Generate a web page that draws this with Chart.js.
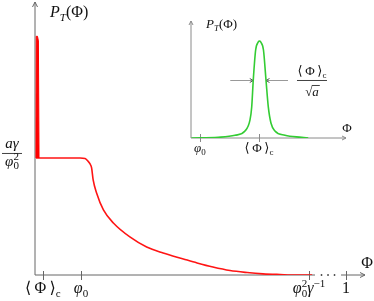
<!DOCTYPE html>
<html>
<head>
<meta charset="utf-8">
<script src="https://cdn.jsdelivr.net/npm/chart.js@4.4.0/dist/chart.umd.min.js"></script>
<style>
  html, body { margin: 0; padding: 0; background: #fff; }
  #wrap { position: relative; width: 374px; height: 301px; }
  #wrap canvas { position: absolute; left: 0; top: 0; }
</style>
</head>
<body>
<div id="wrap">
  <canvas id="mainChart" width="374" height="301"></canvas>
  <canvas id="insetChart" width="374" height="301"></canvas>
</div>
<script>
// main curve P_T(Phi): x in Phi (1 = right tick), y in units of a*gamma/phi0^2
var mainX = [0.003, 0.08, 0.145, 0.161, 0.170, 0.177, 0.182, 0.187, 0.198, 0.220, 0.252, 0.305,
             0.359, 0.412, 0.477, 0.521, 0.572, 0.627, 0.682, 0.733, 0.788, 0.839, 0.891];
var mainY = [1.0, 1.0, 1.0, 0.996, 0.974, 0.949, 0.915, 0.812, 0.701, 0.556, 0.444, 0.325,
             0.239, 0.188, 0.137, 0.103, 0.068, 0.038, 0.021, 0.010, 0.004, 0.0, 0.0];
// narrow peak at <Phi>_c sitting on the plateau
var spikeX = [0.003, 0.004, 0.008, 0.011, 0.013];
var spikeY = [1.0, 2.04, 2.04, 2.0, 1.0];
var mainTicks = [0.025, 0.148, 0.881, 1];
var mainTickLabels = ['⟨\u2009Φ\u2009⟩_c', 'φ_0', 'φ_0^2γ^{−1}', '1'];

// inset: peak around <Phi>_c, x in units of <Phi>_c, y normalised to the peak
var insetX = [0.007, 0.401, 0.647, 0.794, 0.868, 0.893, 0.916, 0.951, 0.990, 1.007, 1.025, 1.066,
              1.103, 1.137, 1.176, 1.235, 1.382, 1.628, 1.725];
var insetY = [0.0, 0.007, 0.028, 0.072, 0.186, 0.320, 0.598, 0.907, 0.990, 1.0, 0.990, 0.907,
              0.598, 0.320, 0.155, 0.072, 0.028, 0.007, 0.0];
var insetTicks = [0.13, 1];
var insetTickLabels = ['φ_0', '⟨\u2009Φ\u2009⟩_c'];
// width marker of the inset peak
var widthLevel = 0.598;
var widthFrom = 0.916, widthTo = 1.103;

var FONT = "'Liberation Serif', 'DejaVu Serif', serif";
var ITALIC = 'aPTγφ';

function toPoints(xs, ys) {
    return xs.map(function (x, i) { return { x: x, y: ys[i] }; });
}

// tiny TeX-ish parser: _x / ^x / _{..} / ^{..}
function parseTex(s) {
    var parts = [], i = 0;
    while (i < s.length) {
        var c = s[i];
        if (c === '_' || c === '^') {
            var lvl = c === '_' ? -1 : 1, t;
            i++;
            if (s[i] === '{') { var j = s.indexOf('}', i); t = s.slice(i + 1, j); i = j + 1; }
            else { t = s[i]; i++; }
            parts.push({ t: t, lvl: lvl });
        } else {
            parts.push({ t: c, lvl: 0 });
            i++;
        }
    }
    return parts;
}

function texLayout(ctx, s, size) {
    var parts = parseTex(s), items = [], cx = 0, last = null;
    parts.forEach(function (p) {
        var px = p.lvl ? Math.round(size * 0.7) : size;
        var dy = p.lvl < 0 ? size * 0.22 : (p.lvl > 0 ? -size * 0.4 : 0);
        var stack = p.lvl && last && last.lvl !== p.lvl;
        var xx = stack ? last.x : cx;
        for (var k = 0; k < p.t.length; k++) {
            var ch = p.t[k];
            ctx.font = (ITALIC.indexOf(ch) >= 0 ? 'italic ' : '') + px + 'px ' + FONT;
            items.push({ ch: ch, font: ctx.font, x: xx, dy: dy });
            xx += ctx.measureText(ch).width;
        }
        if (stack) { cx = Math.max(cx, xx); last = null; }
        else { last = p.lvl ? { lvl: p.lvl, x: cx } : null; cx = xx; }
    });
    return { items: items, width: cx };
}

function drawTex(ctx, s, x, y, size, align, color) {
    var L = texLayout(ctx, s, size);
    var x0 = align === 'center' ? x - L.width / 2 : (align === 'right' ? x - L.width : x);
    ctx.fillStyle = color || '#000';
    ctx.textAlign = 'left';
    ctx.textBaseline = 'alphabetic';
    L.items.forEach(function (it) {
        ctx.font = it.font;
        ctx.fillText(it.ch, x0 + it.x, y + it.dy);
    });
    return L.width;
}

function arrowHead(ctx, x, y, dx, dy, len, half) {
    // dx,dy = unit direction of the arrow
    ctx.beginPath();
    ctx.moveTo(x - dx * len - dy * half, y - dy * len + dx * half);
    ctx.lineTo(x, y);
    ctx.lineTo(x - dx * len + dy * half, y - dy * len - dx * half);
    ctx.stroke();
}

var mainAxes = {
    id: 'mainAxes',
    beforeDatasetsDraw: function (chart) {
        var ctx = chart.ctx, xs = chart.scales.x, ys = chart.scales.y;
        var x0 = xs.getPixelForValue(0), y0 = ys.getPixelForValue(0);
        var xCut = xs.getPixelForValue(mainTicks[2]), xOne = xs.getPixelForValue(mainTicks[3]);
        ctx.save();
        ctx.strokeStyle = '#666';
        ctx.fillStyle = '#444';
        ctx.lineWidth = 1;
        ctx.beginPath();
        ctx.moveTo(x0, y0); ctx.lineTo(x0, ys.top);
        ctx.moveTo(x0, y0); ctx.lineTo(xCut + 6, y0);
        ctx.moveTo(xOne - 5, y0); ctx.lineTo(xs.right, y0);
        ctx.stroke();
        arrowHead(ctx, x0, ys.top, 0, -1, 5, 2.5);
        arrowHead(ctx, xs.right, y0, 1, 0, 5, 2.5);
        // dots in the broken part of the axis
        for (var k = 1; k <= 3; k++) {
            var xd = xCut + 6 + (xOne - 5 - xCut - 6) * k / 4;
            ctx.beginPath(); ctx.arc(xd, y0, 0.9, 0, Math.PI * 2); ctx.fill();
        }
        mainTicks.forEach(function (v) {
            var px = Math.round(xs.getPixelForValue(v)) + 0.5;
            ctx.beginPath(); ctx.moveTo(px, y0 - 4); ctx.lineTo(px, y0 + 5); ctx.stroke();
        });
        ctx.restore();
    },
    afterDraw: function (chart) {
        var ctx = chart.ctx, xs = chart.scales.x, ys = chart.scales.y;
        var y0 = ys.getPixelForValue(0), yp = ys.getPixelForValue(1);
        ctx.save();
        mainTickLabels.forEach(function (t, i) {
            drawTex(ctx, t, xs.getPixelForValue(mainTicks[i]), y0 + 18, 16, 'center', '#111');
        });
        drawTex(ctx, 'P_T(Φ)', xs.left + 15, ys.top + 15, 16, 'left', '#111');
        drawTex(ctx, 'Φ', xs.right + 2, y0 - 7, 16, 'center', '#111');
        // a*gamma / phi0^2 on the plateau level
        var cx = 12;
        drawTex(ctx, 'aγ', cx, yp - 10, 15, 'center', '#111');
        drawTex(ctx, 'φ_0^2', cx, yp + 8, 15, 'center', '#111');
        ctx.strokeStyle = '#111';
        ctx.lineWidth = 0.8;
        ctx.beginPath(); ctx.moveTo(2, yp - 4.5); ctx.lineTo(22, yp - 4.5); ctx.stroke();
        ctx.restore();
    }
};

var insetAxes = {
    id: 'insetAxes',
    beforeDatasetsDraw: function (chart) {
        var ctx = chart.ctx, xs = chart.scales.x, ys = chart.scales.y;
        var x0 = xs.getPixelForValue(0), y0 = ys.getPixelForValue(0);
        ctx.save();
        ctx.strokeStyle = '#8a8a8a';
        ctx.lineWidth = 1;
        ctx.beginPath();
        ctx.moveTo(x0, y0); ctx.lineTo(x0, ys.top);
        ctx.moveTo(x0, y0); ctx.lineTo(xs.right, y0);
        ctx.stroke();
        arrowHead(ctx, x0, ys.top, 0, -1, 4, 2);
        arrowHead(ctx, xs.right, y0, 1, 0, 4, 2);
        insetTicks.forEach(function (v) {
            var px = Math.round(xs.getPixelForValue(v)) + 0.5;
            ctx.beginPath(); ctx.moveTo(px, y0 - 4); ctx.lineTo(px, y0 + 4); ctx.stroke();
        });
        // width marker arrows
        var yw = Math.round(ys.getPixelForValue(widthLevel)) + 0.5;
        var xa = xs.getPixelForValue(widthFrom), xb = xs.getPixelForValue(widthTo);
        ctx.strokeStyle = '#999';
        ctx.beginPath();
        ctx.moveTo(xa - 23, yw); ctx.lineTo(xa, yw);
        ctx.moveTo(xb + 22, yw); ctx.lineTo(xb, yw);
        ctx.stroke();
        ctx.strokeStyle = '#555';
        arrowHead(ctx, xa, yw, 1, 0, 3.5, 2);
        arrowHead(ctx, xb, yw, -1, 0, 3.5, 2);
        ctx.restore();
    },
    afterDraw: function (chart) {
        var ctx = chart.ctx, xs = chart.scales.x, ys = chart.scales.y;
        var y0 = ys.getPixelForValue(0);
        ctx.save();
        insetTickLabels.forEach(function (t, i) {
            drawTex(ctx, t, xs.getPixelForValue(insetTicks[i]), y0 + 14, 13, 'center', '#111');
        });
        drawTex(ctx, 'P_T(Φ)', xs.left + 15, ys.top + 7, 13, 'left', '#111');
        drawTex(ctx, 'Φ', xs.right + 1, y0 - 6, 13, 'center', '#111');
        // <Phi>_c / sqrt(a)
        var yw = ys.getPixelForValue(widthLevel);
        var fx = xs.getPixelForValue(widthTo) + 46;
        drawTex(ctx, '⟨\u2009Φ\u2009⟩_c', fx, yw - 5, 13, 'center', '#111');
        ctx.strokeStyle = '#111';
        ctx.lineWidth = 0.8;
        ctx.beginPath(); ctx.moveTo(fx - 15, yw + 0.5); ctx.lineTo(fx + 15, yw + 0.5); ctx.stroke();
        ctx.font = '13px ' + FONT;
        ctx.fillStyle = '#111';
        var ws = ctx.measureText('√').width;
        ctx.font = 'italic 13px ' + FONT;
        var wa = ctx.measureText('a').width;
        var sx = fx - (ws + wa) / 2;
        ctx.font = '13px ' + FONT;
        ctx.fillText('√', sx, yw + 16);
        ctx.font = 'italic 13px ' + FONT;
        ctx.fillText('a', sx + ws, yw + 16);
        ctx.beginPath(); ctx.moveTo(sx + ws - 0.5, yw + 5.5); ctx.lineTo(sx + ws + wa + 1, yw + 5.5); ctx.stroke();
        ctx.restore();
    }
};

new Chart(document.getElementById('mainChart'), {
    type: 'line',
    data: {
        datasets: [
            {
                data: toPoints(spikeX, spikeY),
                borderColor: '#ff0000',
                backgroundColor: '#ff0000',
                borderWidth: 1,
                fill: { value: 1 },
                pointRadius: 0,
                tension: 0
            },
            {
                data: toPoints(mainX, mainY),
                borderColor: '#ff1414',
                borderWidth: 1.6,
                fill: false,
                pointRadius: 0,
                cubicInterpolationMode: 'monotone'
            }
        ]
    },
    options: {
        responsive: false,
        animation: false,
        events: [],
        layout: { padding: { left: 35, top: 2, right: 9, bottom: 26 } },
        scales: {
            x: { type: 'linear', min: 0, max: 1.061, display: false },
            y: { type: 'linear', min: 0, max: 2.333, display: false }
        },
        plugins: { legend: { display: false }, tooltip: { enabled: false } }
    },
    plugins: [mainAxes]
});

new Chart(document.getElementById('insetChart'), {
    type: 'line',
    data: {
        datasets: [{
            data: toPoints(insetX, insetY),
            borderColor: '#33cc33',
            borderWidth: 1.6,
            fill: false,
            pointRadius: 0,
            cubicInterpolationMode: 'monotone'
        }]
    },
    options: {
        responsive: false,
        animation: false,
        events: [],
        layout: { padding: { left: 191, top: 21, right: 28, bottom: 163 } },
        scales: {
            x: { type: 'linear', min: 0, max: 2.28, display: false },
            y: { type: 'linear', min: 0, max: 1.206, display: false }
        },
        plugins: { legend: { display: false }, tooltip: { enabled: false } }
    },
    plugins: [insetAxes]
});
</script>
</body>
</html>
